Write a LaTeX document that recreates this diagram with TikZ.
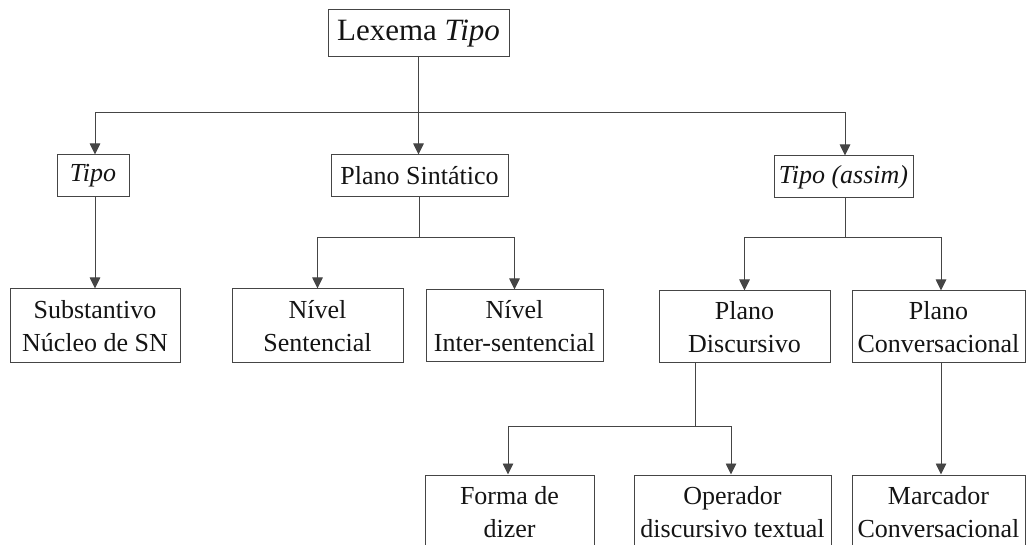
\documentclass[tikz,border=0pt]{standalone}
\usepackage{fontspec}
\setmainfont{Liberation Serif}
\usetikzlibrary{arrows.meta,calc}
\definecolor{lncol}{HTML}{454545}
\definecolor{txcol}{HTML}{141414}
\begin{document}
\begin{tikzpicture}[x=1pt,y=-1pt,
  box/.style={draw=lncol, line width=1pt, text=txcol, inner sep=0pt, align=center,
              font=\fontsize{26}{33}\selectfont},
  arr/.style={draw=lncol, line width=0.9pt, -{Triangle[length=11pt,width=10.5pt]}},
  conn/.style={draw=lncol, line width=0.9pt}]
\useasboundingbox (0,0) rectangle (1026,545);
\clip (0,0) rectangle (1026,545);

% nodes
\node[box, minimum width=181, minimum height=47, font=\fontsize{31}{36}\selectfont] (lex) at (418.5,33.5) {Lexema \textit{Tipo}};
\node[box, minimum width=72, minimum height=42] (tipo) at (93,176) {\textit{Tipo}};
\node[box, minimum width=177, minimum height=42] (ps) at (419.5,176) {Plano Sintático};
\node[box, minimum width=139, minimum height=42] (ta) at (843.5,177) {\textit{Tipo (assim)}};

\node[box, minimum width=170, minimum height=74] (sub) at (95,326) {Substantivo\\Núcleo de SN};
\node[box, minimum width=171, minimum height=74] (ns) at (317.5,326) {Nível\\Sentencial};
\node[box, minimum width=177, minimum height=72] (ni) at (514.5,326) {Nível\\Inter-sentencial};
\node[box, minimum width=171, minimum height=72] (pd) at (744.5,327) {Plano\\Discursivo};
\node[box, minimum width=173, minimum height=72] (pc) at (938.5,327) {Plano\\Conversacional};

\node[box, minimum width=169, minimum height=74] (fd) at (509.5,512) {Forma de\\dizer};
\node[box, minimum width=197, minimum height=74] (od) at (732.5,512) {Operador\\discursivo textual};
\node[box, minimum width=173, minimum height=74] (mc) at (938.5,512) {Marcador\\Conversacional};

% connectors
\draw[conn] (lex.south) -- ++(0,55) coordinate (j1);
\draw[arr] (j1) -| ([xshift=2pt]tipo.north);
\draw[arr] (j1) -- (j1 |- ps.north);
\draw[arr] (j1) -| ([xshift=1.5pt]ta.north);

\draw[arr] ([xshift=2pt]tipo.south) -- ([xshift=2pt]tipo.south |- sub.north);

\draw[conn] (ps.south) -- ++(0,40) coordinate (j2);
\draw[arr] (j2) -| (ns.north);
\draw[arr] (j2) -| (ni.north);

\draw[conn] ([xshift=1.5pt]ta.south) -- ++(0,39) coordinate (j3);
\draw[arr] (j3) -| (pd.north);
\draw[arr] (j3) -| ([xshift=2.5pt]pc.north);

\draw[conn] ([xshift=-49.5pt]pd.south) -- ++(0,63) coordinate (j4);
\draw[arr] (j4) -| ([xshift=-1.5pt]fd.north);
\draw[arr] (j4) -| ([xshift=-1.5pt]od.north);

\draw[arr] ([xshift=2.5pt]pc.south) -- ([xshift=2.5pt]pc.south |- mc.north);
\end{tikzpicture}
\end{document}
